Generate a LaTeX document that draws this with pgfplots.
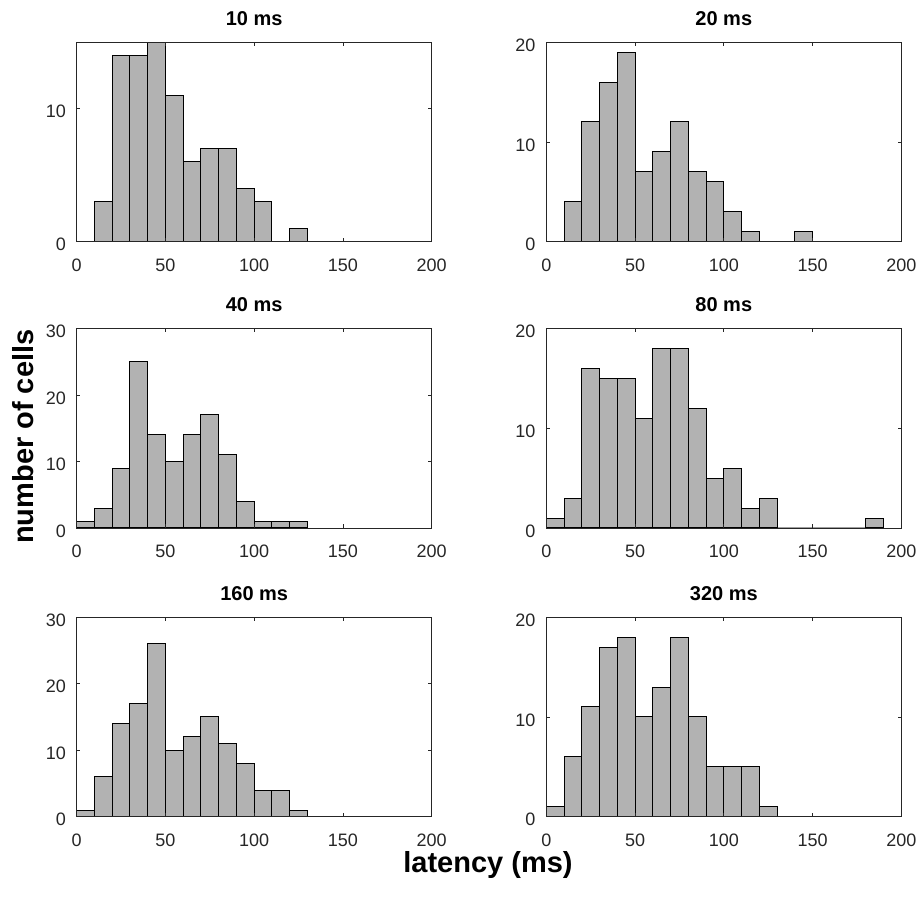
\documentclass[border=0pt]{standalone}
\usepackage{fontspec}
\setmainfont{Liberation Sans}
\usepackage{pgfplots}
\pgfplotsset{compat=1.18}

\definecolor{barfill}{gray}{0.7}
\definecolor{axisgray}{HTML}{262626}

\pgfplotsset{
  hist/.style={
    anchor=south west,
    scale only axis,
    width=355pt, height=199.5pt,
    xmin=0, xmax=200, ymin=0,
    xtick={0,50,100,150,200},
    tick align=inside,
    major tick length=3.5pt,
    axis on top,
    axis line style={draw=axisgray, line width=0.8pt},
    every tick/.style={draw=axisgray, line width=0.8pt},
    /pgf/number format/assume math mode=true,
    tick label style={font=\fontsize{18}{18}\selectfont, text=axisgray},
    xticklabel style={anchor=base, inner sep=0pt, yshift=-30pt},
    yticklabel style={anchor=east, inner sep=0pt, xshift=-10.7pt, yshift=-3pt},
    title style={font=\fontsize{20}{20}\selectfont\bfseries, anchor=base,
                 at={(0.5,1)}, yshift=11pt, inner sep=0pt},
  },
  bars/.style={ybar interval, fill=barfill, draw=black, line width=1pt},
}

\begin{document}
\begin{tikzpicture}
\useasboundingbox (0,0) rectangle (919pt,904pt);

% 10 ms
\begin{axis}[hist, at={(76.7pt,662.3pt)}, ymax=15, ytick={0,10}, title={10 ms}]
\addplot[bars] coordinates {(10,3) (20,14) (30,14) (40,15) (50,11) (60,6) (70,7)
  (80,7) (90,4) (100,3) (110,0) (120,1) (130,0)};
\end{axis}

% 20 ms
\begin{axis}[hist, at={(546.3pt,662.3pt)}, ymax=20, ytick={0,10,20}, title={20 ms}]
\addplot[bars] coordinates {(10,4) (20,12) (30,16) (40,19) (50,7) (60,9) (70,12)
  (80,7) (90,6) (100,3) (110,1) (120,0) (130,0) (140,1) (150,0)};
\end{axis}

% 40 ms
\begin{axis}[hist, at={(76.7pt,376pt)}, ymax=30, ytick={0,10,20,30}, title={40 ms}]
\addplot[bars] coordinates {(0,1) (10,3) (20,9) (30,25) (40,14) (50,10) (60,14)
  (70,17) (80,11) (90,4) (100,1) (110,1) (120,1) (130,0)};
\end{axis}

% 80 ms
\begin{axis}[hist, at={(546.3pt,376pt)}, ymax=20, ytick={0,10,20}, title={80 ms}]
\addplot[bars] coordinates {(0,1) (10,3) (20,16) (30,15) (40,15) (50,11) (60,18)
  (70,18) (80,12) (90,5) (100,6) (110,2) (120,3) (130,0) (140,0) (150,0)
  (160,0) (170,0) (180,1) (190,0)};
\end{axis}

% 160 ms
\begin{axis}[hist, at={(76.7pt,87.3pt)}, ymax=30, ytick={0,10,20,30}, title={160 ms}]
\addplot[bars] coordinates {(0,1) (10,6) (20,14) (30,17) (40,26) (50,10) (60,12)
  (70,15) (80,11) (90,8) (100,4) (110,4) (120,1) (130,0)};
\end{axis}

% 320 ms
\begin{axis}[hist, at={(546.3pt,87.3pt)}, ymax=20, ytick={0,10,20}, title={320 ms}]
\addplot[bars] coordinates {(0,1) (10,6) (20,11) (30,17) (40,18) (50,10) (60,13)
  (70,18) (80,10) (90,5) (100,5) (110,5) (120,1) (130,0)};
\end{axis}

% shared axis labels
\node[rotate=90, anchor=base, font=\fontsize{29}{29}\selectfont\bfseries]
  at (33pt,467.3pt) {number of cells};
\node[anchor=base, font=\fontsize{29}{29}\selectfont\bfseries]
  at (488pt,31pt) {latency (ms)};
\end{tikzpicture}
\end{document}
